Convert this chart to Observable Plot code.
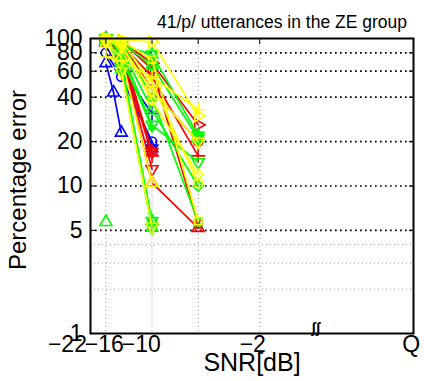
<!DOCTYPE html>
<html>
<head>
<meta charset="utf-8">
<script src="https://cdn.jsdelivr.net/npm/d3@7"></script>
<script src="https://cdn.jsdelivr.net/npm/@observablehq/plot@0.6"></script>
<style>
  html, body { margin: 0; padding: 0; background: #fff; }
  #chart { width: 424px; height: 381px; }
</style>
</head>
<body>
<div id="chart"></div>
<script>
// ---------- data ----------
const chartTitle = "41/p/ utterances in the ZE group";
const xTitle = "SNR[dB]";
const yTitle = "Percentage error";
const snrTicks = [-22, -16, -10, -2];
const xTickLabels = ["\u221222", "\u221216", "\u221210", "\u22122", "Q"];
const xTickLabelAt = [-27.0, -22.2, -17.4, -2.9, 17.7];
const xDomain = [-24, 18];
const breakAt = [5.3];
const yTicks = [1, 5, 10, 20, 40, 60, 80, 100];
const yMajorGrid = [5, 10, 20, 40, 60, 80];
const yMinorGrid = [2, 3, 4];

const seriesColors = [
  "blue","blue","blue","blue",
  "red","red","red","red","red","red","red","red",
  "#00ff00","#00ff00","#00ff00","#00ff00","#00ff00","#00ff00","#00ff00","#00ff00","#00ff00",
  "yellow","yellow","yellow","yellow","yellow","yellow","yellow","yellow"
];
const seriesMarkers = [
  "^","+","o","h",
  ">","o","+","+","^","h","s","v",
  "^","h","h","h","v","s","h","d","*",
  ">","o","^","v","s","v","+","d"
];
const seriesSNR = [
  [-22,-21,-20],[-22,-20,-16],[-22,-20,-16],[-22,-20,-16],
  [-22,-20,-16,-10],[-22,-20,-16,-10],[-22,-20,-16],[-22,-20,-16,-10],[-22,-20,-16,-10],[-22,-20,-16],[-22,-20,-16,-10],[-22,-20,-16],
  [-22],[-22,-20,-16,-10],[-22,-20,-16],[-22,-20,-16],[-22,-20,-16,-10],[-22,-20,-16,-10],[-22,-20,-16,-10],[-22,-20,-16,-10],[-22,-20,-16],
  [-22,-20,-16,-10],[-22,-20,-16,-10],[-22,-20,-16],[-22,-20,-16],[-22,-20,-16,-10],[-22,-20,-16,-10],[-22,-20,-16,-10],[-22,-20,-16,-10]
];
const seriesErr = [
  [68,43,23],[88,62,31],[80,55,20],[95,72,18],
  [98,97,68,26],[100,94,45,20],[97,84,16],[100,92,55,16],[95,78,10.5,5.2],[100,88,17],[99,96,62,5.5],[98,80,13],
  [5.7],[100,90,78,22],[98,70,5.8],[96,62,5.2],[100,82,26,14.5],[99,95,40,5.7],[100,93,66,21],[97,86,33,10],[95,75,25],
  [100,98,95,30],[100,96,50,10.5],[92,75,10.5],[95,60,5.3],[100,97,72,5.8],[98,88,45,20],[75,70,55,33],[99,92,38,12]
];

// ---------- marker shapes (MATLAB style, open) ----------
function tri(angle) {
  return {draw(ctx, size) {
    const r = Math.sqrt(size / Math.PI) * 1.5;
    for (let i = 0; i < 3; i++) {
      const a = angle + i * 2 * Math.PI / 3;
      const px = r * Math.cos(a), py = r * Math.sin(a);
      if (i === 0) ctx.moveTo(px, py); else ctx.lineTo(px, py);
    }
    ctx.closePath();
  }};
}
const hexagram = {draw(ctx, size) {
  const r = Math.sqrt(size / Math.PI) * 1.45;
  for (const off of [-Math.PI / 2, Math.PI / 2]) {
    for (let i = 0; i < 3; i++) {
      const a = off + i * 2 * Math.PI / 3;
      const px = r * Math.cos(a), py = r * Math.sin(a);
      if (i === 0) ctx.moveTo(px, py); else ctx.lineTo(px, py);
    }
    ctx.closePath();
  }
}};
const markerShapes = {
  "^": tri(-Math.PI / 2),
  "v": tri(Math.PI / 2),
  ">": tri(0),
  "<": tri(Math.PI),
  "o": "circle",
  "s": "square2",
  "d": "diamond2",
  "+": "plus",
  "*": "asterisk",
  "h": hexagram
};

// ---------- marks ----------
const seriesMarks = [];
seriesSNR.forEach((xs, i) => {
  const pts = xs.map((x, j) => ({snr: x, err: seriesErr[i][j]}));
  const color = seriesColors[i];
  if (pts.length > 1) {
    seriesMarks.push(Plot.line(pts, {x: "snr", y: "err", stroke: color, strokeWidth: 1.7}));
  }
  seriesMarks.push(Plot.dot(pts, {
    x: "snr", y: "err", symbol: markerShapes[seriesMarkers[i]],
    r: 4.6, fill: "none", stroke: color, strokeWidth: 1.6
  }));
});

const chart = Plot.plot({
  width: 424,
  height: 381,
  marginLeft: 90,
  marginRight: 11,
  marginTop: 38,
  marginBottom: 48,
  style: {fontFamily: "'Liberation Sans', Arial, sans-serif", fontSize: "23px", background: "white", color: "black"},
  x: {domain: xDomain},
  y: {type: "log", domain: [1, 100]},
  marks: [
    Plot.ruleY(yMinorGrid, {y: d => d, stroke: "#9a9a9a", strokeWidth: 1, strokeDasharray: "1,3"}),
    Plot.ruleX(snrTicks, {x: d => d, stroke: "#9a9a9a", strokeWidth: 1, strokeDasharray: "1,3"}),
    Plot.ruleY(yMajorGrid, {y: d => d, stroke: "black", strokeWidth: 1.7, strokeDasharray: "1.7,3.3"}),
    ...seriesMarks,
    Plot.frame({stroke: "black", strokeWidth: 2}),
    Plot.axisY({anchor: "left", label: null, ticks: yTicks, tickSize: -5, tickFormat: () => "", strokeWidth: 1}),
    Plot.axisY({anchor: "right", label: null, ticks: yTicks, tickSize: -5, tickFormat: () => "", strokeWidth: 1}),
    Plot.axisX({anchor: "top", label: null, ticks: snrTicks, tickSize: -5, tickFormat: () => "", strokeWidth: 1}),
    Plot.text(yTicks, {y: d => d, text: d => String(d), frameAnchor: "left", textAnchor: "end", dx: -8, fontSize: 23, fill: "black"}),
    Plot.text(xTickLabels, {x: (d, i) => xTickLabelAt[i], text: d => d, frameAnchor: "bottom", textAnchor: "middle", dy: 18, fontSize: 23, fill: "black"}),
    Plot.text(breakAt, {x: d => d, text: () => "ʃʃ", frameAnchor: "bottom", textAnchor: "middle", dy: -1, fontSize: 14, fontWeight: "bold", fill: "black"}),
    Plot.text([xTitle], {text: d => d, frameAnchor: "bottom", textAnchor: "middle", dy: 37, fontSize: 25, fill: "black"}),
    Plot.text([yTitle], {text: d => d, frameAnchor: "left", textAnchor: "middle", dx: -72, dy: -6, rotate: -90, fontSize: 24, fill: "black"}),
    Plot.text([chartTitle], {text: d => d, frameAnchor: "top", textAnchor: "middle", dx: 30, dy: -23, fontSize: 17.5, fill: "black"})
  ]
});
document.getElementById("chart").appendChild(chart);
</script>
</body>
</html>
